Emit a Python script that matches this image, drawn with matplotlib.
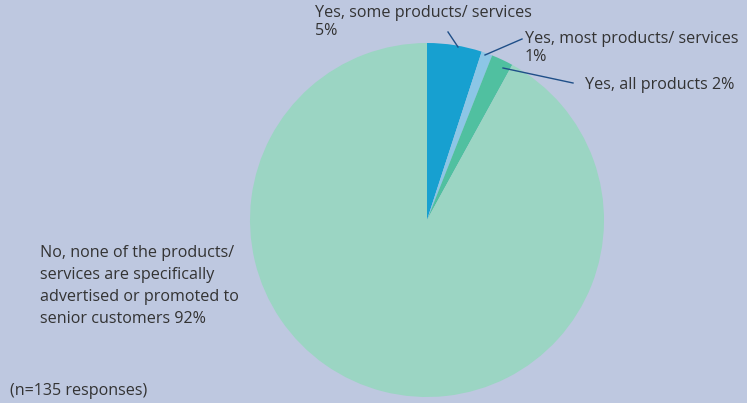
import matplotlib
matplotlib.use("Agg")
import matplotlib.pyplot as plt

categories = ["Yes, some products/ services", "Yes, most products/ services",
              "Yes, all products", "No, none of the products/ services are specifically advertised or promoted to senior customers"]
values = [5, 1, 2, 92]
colors = ["#17a0d0", "#8cc6e6", "#50c0a0", "#9bd5c3"]
bg = "#bec8e0"
txt = "#333333"
line_c = "#1f4f88"

W, H = 747, 403
fig = plt.figure(figsize=(W/100, H/100), dpi=100, facecolor=bg)
ax = fig.add_axes([0, 0, 1, 1])
ax.set_facecolor(bg)

cx, cy, r = 427, 220, 177
# inverted y axis: counterclock=True renders clockwise, startangle=-90 is the top
ax.pie(values, colors=colors, startangle=-90, counterclock=True,
       center=(cx, cy), radius=r, wedgeprops=dict(linewidth=0), frame=True)
ax.set_xlim(0, W)
ax.set_ylim(H, 0)
ax.set_aspect("equal")
ax.axis("off")

fs = 11.6
font = "Open Sans"
ax.text(315, 22, "Yes, some products/ services\n5%", fontsize=fs, color=txt,
        family=font, va="center", ha="left", linespacing=1.1)
ax.plot([448, 458], [32, 47], color=line_c, lw=1)

ax.text(525, 48, "Yes, most products/ services\n1%", fontsize=fs, color=txt,
        family=font, va="center", ha="left", linespacing=1.1)
ax.plot([522, 485], [39, 55], color=line_c, lw=1)

ax.text(585, 85, "Yes, all products 2%", fontsize=fs, color=txt,
        family=font, va="center", ha="left")
ax.plot([573, 503], [83, 68], color=line_c, lw=1)

ax.text(40, 286, "No, none of the products/\nservices are specifically\nadvertised or promoted to\nsenior customers 92%",
        fontsize=fs, color=txt, family=font, va="center", ha="left", linespacing=1.5)

ax.text(10, 391, "(n=135 responses)", fontsize=fs, color=txt, family=font,
        va="center", ha="left")

fig.savefig("out.png", dpi=100, facecolor=bg)
